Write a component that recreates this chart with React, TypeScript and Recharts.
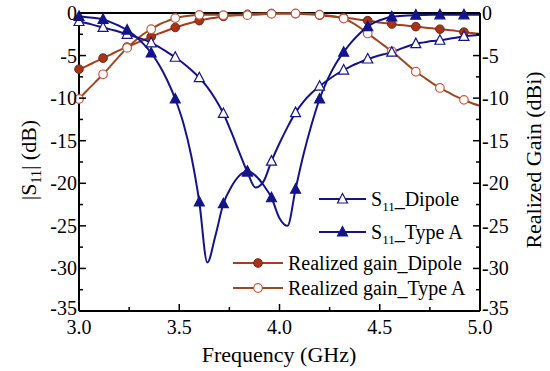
import React from 'react';
import { LineChart, Line, XAxis, YAxis, Legend, ReferenceLine } from 'recharts';

// frequency grid (GHz), markers drawn on every 3rd point (0.12 GHz apart)
const freqs = [
  3.0, 3.04, 3.08, 3.12, 3.16, 3.2, 3.24, 3.28, 3.32, 3.36, 3.4, 3.44, 3.48,
  3.52, 3.56, 3.6, 3.64, 3.68, 3.72, 3.76, 3.8, 3.84, 3.88, 3.92, 3.96, 4.0,
  4.04, 4.08, 4.12, 4.16, 4.2, 4.24, 4.28, 4.32, 4.36, 4.4, 4.44, 4.48, 4.52,
  4.56, 4.6, 4.64, 4.68, 4.72, 4.76, 4.8, 4.84, 4.88, 4.92, 4.96, 5.0,
];

// |S11| (dB)
const s11Dipole = [
  -1.0, -1.2, -1.45, -1.7, -1.95, -2.2, -2.5, -2.8, -3.1, -3.5, -4.0, -4.6, -5.2,
  -5.9, -6.7, -7.6, -8.7, -10.1, -11.8, -14.0, -16.4, -18.7, -20.5, -19.8, -17.4, -15.3,
  -13.4, -11.7, -10.4, -9.4, -8.6, -7.9, -7.25, -6.7, -6.2, -5.8, -5.4, -5.1, -4.85,
  -4.6, -4.25, -3.9, -3.6, -3.45, -3.3, -3.2, -3.05, -2.9, -2.75, -2.65, -2.55,
];
const s11TypeA = [
  -0.4, -0.5, -0.6, -0.75, -1.1, -1.5, -2.0, -2.7, -3.6, -4.7, -6.1, -7.9, -10.1,
  -12.9, -16.8, -22.2, -29.3, -26.2, -22.4, -20.4, -19.1, -18.6, -19.1, -20.2, -21.7, -24.1,
  -25.0, -20.7, -16.6, -13.1, -10.1, -7.8, -6.0, -4.6, -3.4, -2.4, -1.6, -1.05, -0.7,
  -0.45, -0.35, -0.28, -0.25, -0.23, -0.22, -0.22, -0.22, -0.22, -0.22, -0.22, -0.22,
];

// realized gain (dBi)
const gainDipole = [
  -6.6, -6.2, -5.75, -5.3, -4.85, -4.4, -4.0, -3.6, -3.2, -2.8, -2.4, -2.05, -1.7,
  -1.4, -1.15, -0.9, -0.7, -0.55, -0.4, -0.3, -0.2, -0.15, -0.1, -0.06, -0.05, -0.05,
  -0.05, -0.08, -0.12, -0.18, -0.25, -0.35, -0.45, -0.55, -0.65, -0.78, -0.9, -1.05, -1.18,
  -1.3, -1.4, -1.5, -1.6, -1.7, -1.8, -1.9, -2.0, -2.1, -2.25, -2.35, -2.45,
];
const gainTypeA = [
  -10.1, -9.1, -8.15, -7.2, -6.15, -5.1, -4.1, -3.25, -2.5, -1.9, -1.35, -0.95, -0.6,
  -0.42, -0.3, -0.22, -0.2, -0.22, -0.25, -0.27, -0.27, -0.25, -0.2, -0.15, -0.1, -0.06,
  -0.05, -0.05, -0.08, -0.12, -0.2, -0.3, -0.45, -0.65, -1.1, -1.7, -2.4, -3.1, -3.8,
  -4.5, -5.3, -6.1, -6.9, -7.55, -8.2, -8.8, -9.3, -9.8, -10.2, -10.6, -10.9,
];

const xTicks = [3, 3.25, 3.5, 3.75, 4, 4.25, 4.5, 4.75, 5];
const yTicks = [
  -35, -32.5, -30, -27.5, -25, -22.5, -20, -17.5, -15, -12.5, -10, -7.5, -5, -2.5, 0,
];

const data = freqs.map((f, i) => ({
  freq: f,
  s11Dipole: s11Dipole[i],
  s11TypeA: s11TypeA[i],
  gainDipole: gainDipole[i],
  gainTypeA: gainTypeA[i],
}));

const FONT = '"Liberation Serif", "Times New Roman", serif';
const NAVY = '#14148a';

type MarkerKind = 'triOpen' | 'triFilled' | 'dotFilled' | 'dotOpen';

const series = [
  { key: 'gainDipole', axis: 'right', color: '#aa3c1c', marker: 'dotFilled' as MarkerKind, label: 'Realized gain_Dipole' },
  { key: 'gainTypeA', axis: 'right', color: '#9a4a22', marker: 'dotOpen' as MarkerKind, label: 'Realized gain_Type A' },
  { key: 's11Dipole', axis: 'left', color: NAVY, marker: 'triOpen' as MarkerKind, label: '_Dipole' },
  { key: 's11TypeA', axis: 'left', color: NAVY, marker: 'triFilled' as MarkerKind, label: '_Type A' },
];

const Marker = ({ cx, cy, kind, color }: { cx: number; cy: number; kind: MarkerKind; color: string }) => {
  if (kind === 'triOpen' || kind === 'triFilled') {
    const pts = `${cx},${cy - 5.5} ${cx - 5},${cy + 4} ${cx + 5},${cy + 4}`;
    return (
      <polygon
        points={pts}
        fill={kind === 'triFilled' ? color : '#fff'}
        stroke={color}
        strokeWidth={1.2}
      />
    );
  }
  if (kind === 'dotFilled') {
    return <circle cx={cx} cy={cy} r={4.3} fill="#a8321a" stroke="#6e2a10" strokeWidth={1} />;
  }
  return <circle cx={cx} cy={cy} r={4.3} fill="#fff" stroke="#d0583a" strokeWidth={1.2} />;
};

const makeDot = (kind: MarkerKind, color: string) => (props: any) => {
  const { cx, cy, index } = props;
  if (index % 3 !== 0 || cx == null || cy == null) return <g key={`n-${index}`} />;
  return (
    <g key={`m-${index}`}>
      <Marker cx={cx} cy={cy} kind={kind} color={color} />
    </g>
  );
};

// the lowest label sits in the axis corner, nudge it up a little like the original
const labelLift = (v: number) => (v === -35 ? -3 : 0);

const LeftTick = (props: any) => {
  const { x, y, payload } = props;
  const v = payload.value;
  const major = v % 5 === 0;
  return (
    <g>
      <line x1={x} x2={x + (major ? 7 : 4)} y1={y} y2={y} stroke="#000" strokeWidth={1.5} />
      {major && (
        <text x={x - 2} y={y + labelLift(v)} dy="0.35em" textAnchor="end" fontSize={20} fontFamily={FONT} fill="#000">
          {v}
        </text>
      )}
    </g>
  );
};

const RightTick = (props: any) => {
  const { x, y, payload } = props;
  const v = payload.value;
  const major = v % 5 === 0;
  return (
    <g>
      <line x1={x} x2={x - (major ? 7 : 4)} y1={y} y2={y} stroke="#000" strokeWidth={1.5} />
      {major && (
        <text x={x + 2} y={y + labelLift(v)} dy="0.35em" textAnchor="start" fontSize={20} fontFamily={FONT} fill="#000">
          {v}
        </text>
      )}
    </g>
  );
};

const BottomTick = (props: any) => {
  const { x, y, payload } = props;
  const v = payload.value;
  const major = Math.abs(v * 2 - Math.round(v * 2)) < 1e-6;
  return (
    <g>
      <line x1={x} x2={x} y1={y} y2={y - (major ? 7 : 4)} stroke="#000" strokeWidth={1.5} />
      {major && (
        <text x={x} y={y + 23} textAnchor="middle" fontSize={20} fontFamily={FONT} fill="#000">
          {v.toFixed(1)}
        </text>
      )}
    </g>
  );
};

const LeftTitle = () => (
  <text
    x={28}
    y={160}
    transform="rotate(-90, 28, 160)"
    textAnchor="middle"
    dy="0.35em"
    fontSize={22}
    fontFamily={FONT}
    fill="#000"
  >
    <tspan>|S</tspan>
    <tspan dy={5} fontSize={14}>11</tspan>
    <tspan dy={-5}>| (dB)</tspan>
  </text>
);

const RightTitle = () => (
  <text
    x={533}
    y={160}
    transform="rotate(-90, 533, 160)"
    textAnchor="middle"
    dy="0.35em"
    fontSize={22}
    fontFamily={FONT}
    fill="#000"
  >
    Realized Gain (dBi)
  </text>
);

const BottomTitle = () => (
  <text x={279} y={362} textAnchor="middle" fontSize={22} fontFamily={FONT} fill="#000">
    Frequency (GHz)
  </text>
);

// legend layout: series key, line start x, line end x, row y
const legendRows: { key: string; x0: number; x1: number; y: number }[] = [
  { key: 's11Dipole', x0: 319, x1: 366, y: 199 },
  { key: 's11TypeA', x0: 319, x1: 366, y: 232 },
  { key: 'gainDipole', x0: 233, x1: 283, y: 263 },
  { key: 'gainTypeA', x0: 233, x1: 283, y: 288 },
];

const renderLegend = () => (
  <svg width={550} height={371} style={{ position: 'absolute', left: 0, top: 0, overflow: 'visible', pointerEvents: 'none' }}>
    {legendRows.map((row) => {
      const s = series.find((d) => d.key === row.key)!;
      const mid = (row.x0 + row.x1) / 2;
      const isS11 = s.axis === 'left';
      return (
        <g key={row.key}>
          <line x1={row.x0} x2={row.x1} y1={row.y} y2={row.y} stroke={s.color} strokeWidth={2} />
          <Marker cx={mid} cy={row.y} kind={s.marker} color={s.color} />
          <text x={row.x1 + 5} y={row.y} dy="0.35em" fontSize={20} fontFamily={FONT} fill="#000">
            {isS11 ? (
              <>
                <tspan>S</tspan>
                <tspan dy={5} fontSize={13}>11</tspan>
                <tspan dy={-5}>{s.label}</tspan>
              </>
            ) : (
              s.label
            )}
          </text>
        </g>
      );
    })}
  </svg>
);

export default function App() {
  return (
    <div style={{ position: 'absolute', left: 0, top: 0, width: 550, height: 371, background: '#fff' }}>
      <LineChart width={550} height={371} data={data} margin={{ top: 13, right: 0, bottom: 0, left: 0 }}>
        <XAxis
          dataKey="freq"
          type="number"
          domain={[3, 5]}
          ticks={xTicks}
          interval={0}
          height={60}
          tickSize={0}
          tickMargin={0}
          tickLine={false}
          axisLine={{ stroke: '#000', strokeWidth: 2 }}
          tick={<BottomTick />}
          label={<BottomTitle />}
        />
        <YAxis
          yAxisId="left"
          type="number"
          domain={[-35, 0]}
          ticks={yTicks}
          interval={0}
          width={79}
          tickSize={0}
          tickMargin={0}
          tickLine={false}
          axisLine={{ stroke: '#000', strokeWidth: 2 }}
          tick={<LeftTick />}
          label={<LeftTitle />}
        />
        <YAxis
          yAxisId="right"
          orientation="right"
          type="number"
          domain={[-35, 0]}
          ticks={yTicks}
          interval={0}
          width={70}
          tickSize={0}
          tickMargin={0}
          tickLine={false}
          axisLine={{ stroke: '#000', strokeWidth: 2 }}
          tick={<RightTick />}
          label={<RightTitle />}
        />
        <ReferenceLine yAxisId="left" y={0} stroke="#000" strokeWidth={2} />
        {series.map((s) => (
          <Line
            key={s.key}
            yAxisId={s.axis}
            dataKey={s.key}
            type="monotone"
            stroke={s.color}
            strokeWidth={2}
            dot={makeDot(s.marker, s.color)}
            activeDot={false}
            isAnimationActive={false}
          />
        ))}
        <Legend
          content={renderLegend}
          layout="horizontal"
          verticalAlign="middle"
          wrapperStyle={{ left: 0, top: 0, width: 0, height: 0 }}
        />
      </LineChart>
    </div>
  );
}
